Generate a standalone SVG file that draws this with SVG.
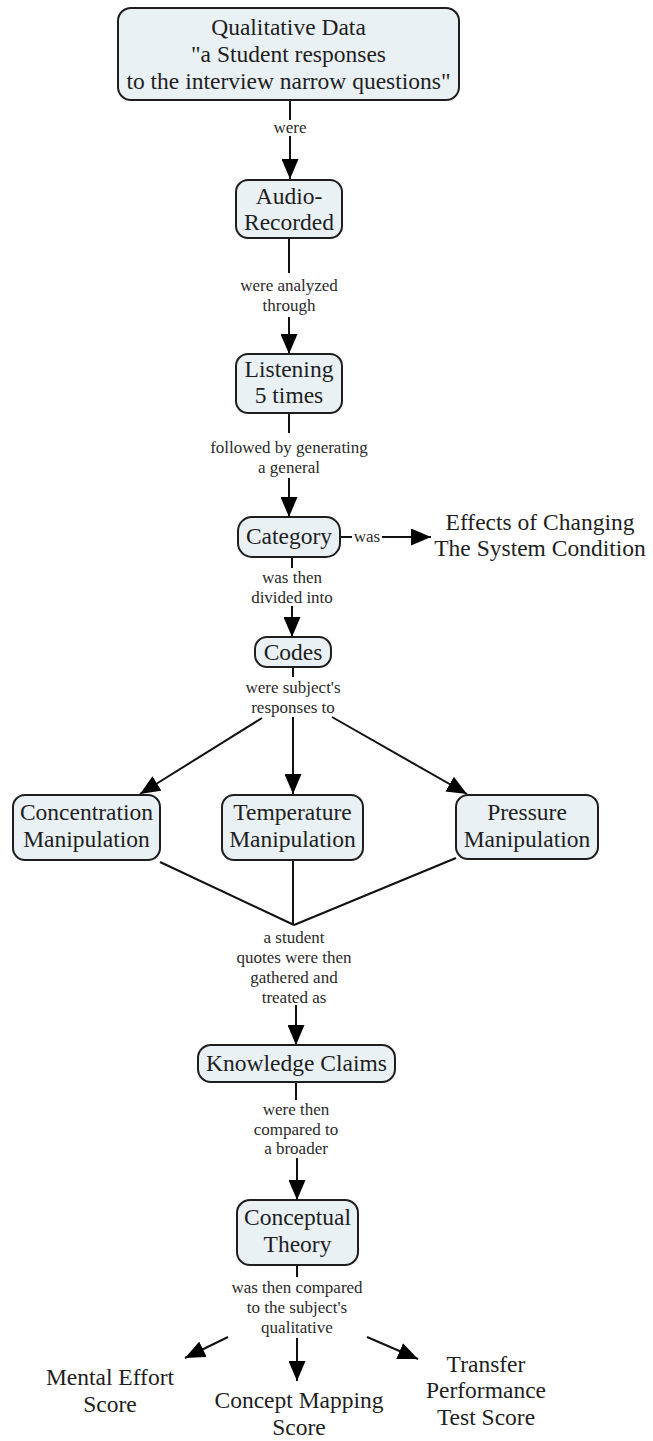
<svg xmlns="http://www.w3.org/2000/svg" width="653" height="1441" viewBox="0 0 653 1441">
<style>
.node rect{fill:#e9f1f5;stroke:#1e1e1e;stroke-width:2}
.nt{font-family:"Liberation Serif","Times New Roman",serif;font-size:23.5px;fill:#1e1e1e;text-anchor:middle}
.lb{font-family:"Liberation Serif","Times New Roman",serif;font-size:17px;fill:#2a2a2a;text-anchor:middle}
.cn line{stroke:#111;stroke-width:2;fill:none}
</style>
<defs>
<marker id="ah" markerUnits="userSpaceOnUse" markerWidth="21" markerHeight="17" refX="20" refY="8.5" orient="auto">
<path d="M0,0 L20,8.5 L0,17 z" fill="#000"/>
</marker>
</defs>
<g id="connectors" class="cn">
<line x1="290" y1="100" x2="290" y2="120"/>
<line x1="290" y1="136" x2="290" y2="179" marker-end="url(#ah)"/>
<line x1="289" y1="238" x2="289" y2="273"/>
<line x1="289" y1="317" x2="289" y2="354" marker-end="url(#ah)"/>
<line x1="289" y1="413" x2="289" y2="433"/>
<line x1="289" y1="478" x2="289" y2="517" marker-end="url(#ah)"/>
<line x1="340" y1="537" x2="352" y2="537"/>
<line x1="382" y1="537" x2="431" y2="537" marker-end="url(#ah)"/>
<line x1="292" y1="557" x2="292" y2="568"/>
<line x1="292" y1="606" x2="292" y2="637" marker-end="url(#ah)"/>
<line x1="293" y1="667" x2="293" y2="677"/>
<line x1="262" y1="718" x2="140" y2="794" marker-end="url(#ah)"/>
<line x1="293" y1="717" x2="293" y2="794" marker-end="url(#ah)"/>
<line x1="332" y1="717" x2="467" y2="794" marker-end="url(#ah)"/>
<line x1="160" y1="862" x2="294" y2="925"/>
<line x1="293" y1="860" x2="293" y2="925"/>
<line x1="456" y1="858" x2="294" y2="925"/>
<line x1="296" y1="1005" x2="296" y2="1045" marker-end="url(#ah)"/>
<line x1="296" y1="1082" x2="296" y2="1100"/>
<line x1="297" y1="1158" x2="297" y2="1200" marker-end="url(#ah)"/>
<line x1="297" y1="1265" x2="297" y2="1277"/>
<line x1="228" y1="1337" x2="185" y2="1358" marker-end="url(#ah)"/>
<line x1="297" y1="1338" x2="297" y2="1381" marker-end="url(#ah)"/>
<line x1="367" y1="1337" x2="418" y2="1359" marker-end="url(#ah)"/>
<text class="lb" x="290" y="133">were</text>
<text class="lb" x="289" y="291">were analyzed</text>
<text class="lb" x="289" y="311">through</text>
<text class="lb" x="289" y="453">followed by generating</text>
<text class="lb" x="289" y="473">a general</text>
<text class="lb" x="367" y="542">was</text>
<text class="lb" x="292" y="583">was then</text>
<text class="lb" x="292" y="603">divided into</text>
<text class="lb" x="293" y="693">were subject's</text>
<text class="lb" x="293" y="713">responses to</text>
<text class="lb" x="294" y="943">a student</text>
<text class="lb" x="294" y="963">quotes were then</text>
<text class="lb" x="294" y="983">gathered and</text>
<text class="lb" x="294" y="1003">treated as</text>
<text class="lb" x="296" y="1115">were then</text>
<text class="lb" x="296" y="1135">compared to</text>
<text class="lb" x="296" y="1154">a broader</text>
<text class="lb" x="297" y="1293">was then compared</text>
<text class="lb" x="297" y="1313">to the subject's</text>
<text class="lb" x="297" y="1333">qualitative</text>
</g>
<g id="n-qualitative" class="node">
<rect x="118" y="8" width="341" height="92" rx="13"/>
<text class="nt" x="288.5" y="35">Qualitative Data</text>
<text class="nt" x="288.5" y="62">"a Student responses</text>
<text class="nt" x="288.5" y="89">to the interview narrow questions"</text>
</g>
<g id="n-audio" class="node">
<rect x="236" y="180" width="106" height="58" rx="12"/>
<text class="nt" x="289" y="204">Audio-</text>
<text class="nt" x="289" y="230">Recorded</text>
</g>
<g id="n-listening" class="node">
<rect x="236" y="354" width="106" height="59" rx="12"/>
<text class="nt" x="289" y="377">Listening</text>
<text class="nt" x="289" y="403">5 times</text>
</g>
<g id="n-category" class="node">
<rect x="238" y="517" width="102" height="40" rx="14"/>
<text class="nt" x="289" y="544">Category</text>
</g>
<g id="n-effects">
<text class="nt" x="540" y="530">Effects of Changing</text>
<text class="nt" x="540" y="556">The System Condition</text>
</g>
<g id="n-codes" class="node">
<rect x="255" y="637" width="76" height="30" rx="12"/>
<text class="nt" x="293" y="660">Codes</text>
</g>
<g id="n-concentration" class="node">
<rect x="13" y="795" width="147" height="65" rx="12"/>
<text class="nt" x="86.5" y="820">Concentration</text>
<text class="nt" x="86.5" y="847">Manipulation</text>
</g>
<g id="n-temperature" class="node">
<rect x="222" y="795" width="141" height="65" rx="12"/>
<text class="nt" x="292.5" y="820">Temperature</text>
<text class="nt" x="292.5" y="847">Manipulation</text>
</g>
<g id="n-pressure" class="node">
<rect x="456" y="795" width="142" height="64" rx="12"/>
<text class="nt" x="527" y="820">Pressure</text>
<text class="nt" x="527" y="847">Manipulation</text>
</g>
<g id="n-knowledge" class="node">
<rect x="198" y="1045" width="197" height="37" rx="13"/>
<text class="nt" x="296.5" y="1071">Knowledge Claims</text>
</g>
<g id="n-conceptual" class="node">
<rect x="237" y="1200" width="121" height="65" rx="13"/>
<text class="nt" x="297.5" y="1225">Conceptual</text>
<text class="nt" x="297.5" y="1252">Theory</text>
</g>
<g id="n-mental">
<text class="nt" x="110" y="1385">Mental Effort</text>
<text class="nt" x="110" y="1412">Score</text>
</g>
<g id="n-mapping">
<text class="nt" x="299" y="1408">Concept Mapping</text>
<text class="nt" x="299" y="1435">Score</text>
</g>
<g id="n-transfer">
<text class="nt" x="486" y="1372">Transfer</text>
<text class="nt" x="486" y="1398">Performance</text>
<text class="nt" x="486" y="1425">Test Score</text>
</g>
</svg>
